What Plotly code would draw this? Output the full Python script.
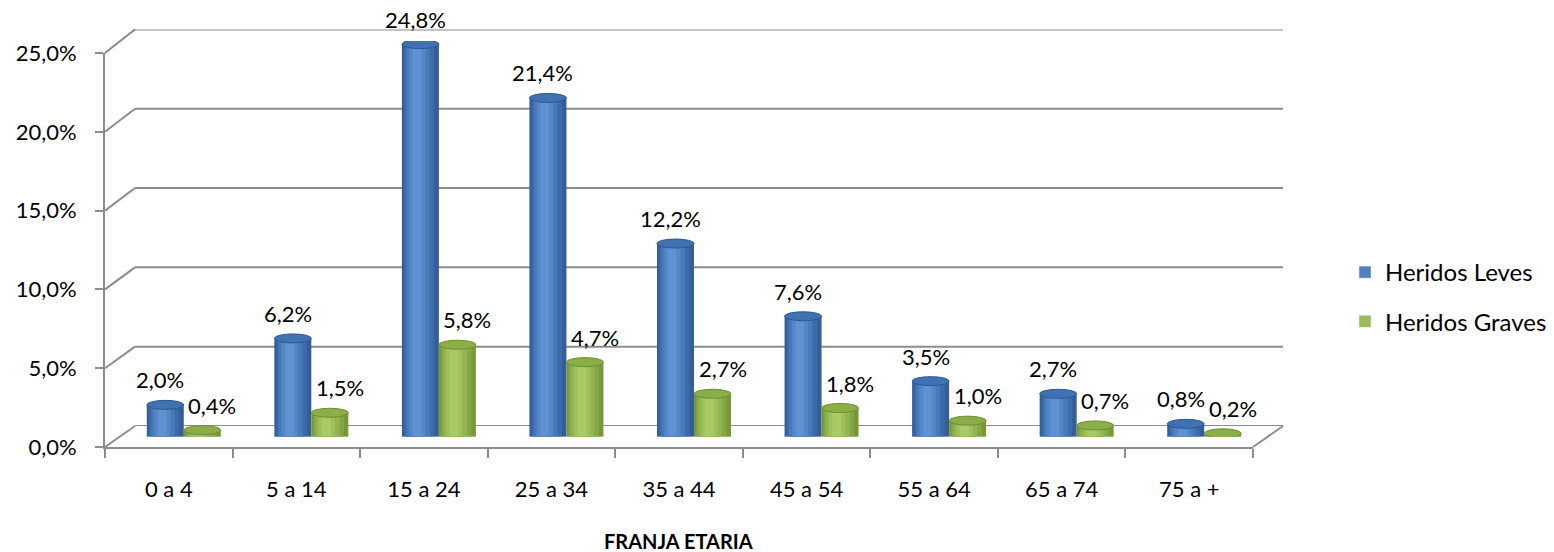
import plotly.graph_objects as go

categories = ["0 a 4", "5 a 14", "15 a 24", "25 a 34", "35 a 44", "45 a 54", "55 a 64", "65 a 74", "75 a +"]
leves = [2.0, 6.2, 24.8, 21.4, 12.2, 7.6, 3.5, 2.7, 0.8]
graves = [0.4, 1.5, 5.8, 4.7, 2.7, 1.8, 1.0, 0.7, 0.2]
y_ticks = [0, 5, 10, 15, 20, 25]
y_ticktext = [f"{t:.1f}".replace(".", ",") + "%" for t in y_ticks]

W, H = 1554, 552
FONT = "Lato"
GRID = "#8c8c8c"

def px_x(p):
    return p / W

def px_y(p):
    return 1 - p / H

# axis domains (front, middle-depth for bars, back wall)
fx = [px_x(105), px_x(1253)]
fy = [px_y(447), px_y(53)]
mx = [px_x(120), px_x(1268)]
my = [px_y(436.5), px_y(41)]
bx = [px_x(135), px_x(1283)]
by = [px_y(426), px_y(29.4)]
YMAX = 25

series = [
    dict(name="Heridos Leves", vals=leves, off=-0.145, legend="#4f81bd",
         colors=["#325e99", "#3d6ba9", "#4879b9", "#5486c8", "#5e92d2"],
         top="#4072b2", edge="#2d5890", xshift=-5),
    dict(name="Heridos Graves", vals=graves, off=0.145, legend="#9bbb59",
         colors=["#789838", "#85a644", "#92b451", "#9ec05d", "#a8ca67"],
         top="#8cae48", edge="#6e8d33", xshift=10),
]
BW = 0.29
layers = [(1.0, 0.0), (0.82, -0.03), (0.64, -0.06), (0.44, -0.08), (0.24, -0.09)]

fig = go.Figure()
# invisible traces so the front and back axes are drawn
fig.add_trace(go.Scatter(x=categories, y=[None] * len(categories), xaxis="x", yaxis="y",
                         showlegend=False, hoverinfo="skip"))
fig.add_trace(go.Scatter(x=[None], y=[None], xaxis="x3", yaxis="y3", showlegend=False,
                         hoverinfo="skip"))

shapes = []
annotations = []
xs = list(range(len(categories)))

# back wall gridlines
for t in y_ticks:
    shapes.append(dict(type="line", xref="x3 domain", yref="y3", x0=0, x1=1, y0=t, y1=t,
                       line=dict(color=GRID, width=2), layer="below"))
# perspective connectors of the walls
for t in y_ticks:
    yf = fy[0] + t / YMAX * (fy[1] - fy[0])
    yb = by[0] + t / YMAX * (by[1] - by[0])
    shapes.append(dict(type="line", xref="paper", yref="paper", x0=fx[0], y0=yf, x1=bx[0], y1=yb,
                       line=dict(color=GRID, width=2), layer="below"))
shapes.append(dict(type="line", xref="paper", yref="paper", x0=fx[1], y0=fy[0], x1=bx[1], y1=by[0],
                   line=dict(color=GRID, width=2), layer="below"))

for si, s in enumerate(series):
    pos = [x + s["off"] for x in xs]
    fig.add_trace(go.Bar(x=[None], y=[None], name=s["name"], legendgroup=s["name"],
                         marker=dict(color=s["legend"]), xaxis="x2", yaxis="y2"))
    for li, (wf, sh) in enumerate(layers):
        fig.add_trace(go.Bar(
            x=[p + sh * BW for p in pos], y=s["vals"], width=BW * wf,
            marker=dict(color=s["colors"][li], line=dict(width=0)),
            name=s["name"], showlegend=False, legendgroup=s["name"],
            xaxis="x2", yaxis="y2", hoverinfo="skip",
        ))
    for p, v in zip(pos, s["vals"]):
        shapes.append(dict(type="circle", xref="x2", yref="y2",
                           ysizemode="pixel", yanchor=v, x0=p - BW / 2, x1=p + BW / 2,
                           y0=-4.5, y1=4.5, fillcolor=s["top"],
                           line=dict(color=s["edge"], width=1), layer="above"))
        shapes.append(dict(type="circle", xref="x2", yref="y2",
                           ysizemode="pixel", yanchor=0, x0=p - BW / 2, x1=p + BW / 2,
                           y0=-4.5, y1=4.5, fillcolor=s["edge"],
                           line=dict(width=0), layer="below"))
        annotations.append(dict(xref="x2", yref="y2", x=p, y=v, yshift=25, xshift=s["xshift"],
                                text=f"{v:.1f}".replace(".", ",") + "%", showarrow=False,
                                yanchor="middle", xanchor="center",
                                font=dict(family=FONT, size=22, color="#000000")))

annotations.append(dict(xref="paper", yref="paper", x=px_x(678), y=px_y(541),
                        text="<b>FRANJA ETARIA</b>", showarrow=False,
                        xanchor="center", yanchor="middle",
                        font=dict(family=FONT, size=20, color="#000000")))

fig.update_layout(
    width=W, height=H,
    margin=dict(l=0, r=0, t=0, b=0, autoexpand=False),
    paper_bgcolor="white", plot_bgcolor="rgba(0,0,0,0)",
    barmode="overlay",
    font=dict(family=FONT, size=22, color="#000000"),
    shapes=shapes, annotations=annotations,
    legend=dict(x=px_x(1345), y=px_y(250), xanchor="left", yanchor="top",
                font=dict(family=FONT, size=24), tracegroupgap=15, traceorder="grouped",
                bgcolor="rgba(0,0,0,0)"),
    xaxis=dict(domain=fx, type="category", categoryorder="array", categoryarray=categories,
               range=[-0.5, 8.5], tickson="boundaries", ticks="outside", ticklen=9,
               tickcolor=GRID, tickwidth=2, showline=True, linecolor=GRID, linewidth=2,
               showgrid=False, anchor="y", ticklabelstandoff=22, automargin=False,
               tickfont=dict(family=FONT, size=22)),
    yaxis=dict(domain=fy, range=[0, YMAX], tickvals=y_ticks, ticktext=y_ticktext,
               ticks="outside", ticklen=8, tickcolor=GRID, tickwidth=2, showline=True,
               linecolor=GRID, linewidth=2, showgrid=False, zeroline=False, anchor="x",
               ticklabelstandoff=14, automargin=False, tickfont=dict(family=FONT, size=22)),
    xaxis2=dict(domain=mx, range=[-0.5, 8.5], visible=False, anchor="y2", automargin=False),
    yaxis2=dict(domain=my, range=[0, YMAX], visible=False, anchor="x2", automargin=False),
    xaxis3=dict(domain=bx, range=[-0.5, 8.5], visible=False, anchor="y3", automargin=False),
    yaxis3=dict(domain=by, range=[0, YMAX], visible=False, anchor="x3", automargin=False),
)

fig.write_html("out.html", config={"displayModeBar": False},
               post_script="document.body.style.margin='0';document.body.style.overflow='hidden';")
